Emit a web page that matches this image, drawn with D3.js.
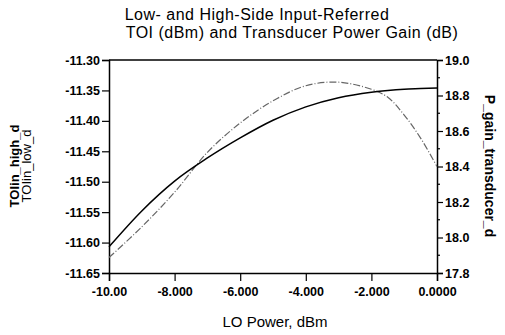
<!DOCTYPE html>
<html>
<head>
<meta charset="utf-8">
<script src="https://cdn.jsdelivr.net/npm/d3@7"></script>
<style>
  body { margin: 0; background: #fff; }
  svg { font-family: "Liberation Sans", Arial, sans-serif; }
</style>
</head>
<body>
<svg id="chart"></svg>
<script>
// LO power sweep (dBm)
var loPower = [-10, -9, -8, -7, -6, -5, -4, -3, -2, -1.5, -1, -0.5, 0];
// input-referred TOI, left axis (dBm)
var toiIn = [-11.607, -11.548, -11.499, -11.461, -11.428, -11.399, -11.377, -11.362, -11.353, -11.350, -11.348, -11.347, -11.346];
// transducer power gain, right axis (dB)
var gainTransducer = [17.887, 18.06, 18.255, 18.48, 18.645, 18.77, 18.855, 18.875, 18.835, 18.79, 18.69, 18.56, 18.40];

var xTicks = [-10, -8, -6, -4, -2, 0];
var xTickLabels = ["-10.00", "-8.000", "-6.000", "-4.000", "-2.000", "0.0000"];
var leftTicks = [-11.30, -11.35, -11.40, -11.45, -11.50, -11.55, -11.60, -11.65];
var rightTicks = [19.0, 18.8, 18.6, 18.4, 18.2, 18.0, 17.8];

var width = 505, height = 335;
var margin = { top: 60, right: 68, bottom: 62, left: 109 };

var svg = d3.select("#chart")
    .attr("width", width)
    .attr("height", height);

var x = d3.scaleLinear()
    .domain([-10, 0])
    .range([margin.left, width - margin.right]);

var yL = d3.scaleLinear()
    .domain([-11.65, -11.30])
    .range([height - margin.bottom, margin.top]);

var yR = d3.scaleLinear()
    .domain([17.8, 19.0])
    .range([height - margin.bottom, margin.top]);

// frame top line
svg.append("line")
    .attr("x1", x(-10)).attr("x2", x(0))
    .attr("y1", yL(-11.30)).attr("y2", yL(-11.30))
    .attr("stroke", "#000").attr("stroke-width", 1.5);

var xAxis = g => g
    .attr("transform", `translate(0,${height - margin.bottom})`)
    .call(d3.axisBottom(x).tickValues(xTicks).tickFormat((d, i) => xTickLabels[i]).tickSizeOuter(0).tickSize(8).tickPadding(6));

var yAxisL = g => g
    .attr("transform", `translate(${margin.left},0)`)
    .call(d3.axisLeft(yL).tickValues(leftTicks).tickFormat(d => d.toFixed(2)).tickSizeOuter(0).tickSize(7).tickPadding(2));

var yAxisR = g => g
    .attr("transform", `translate(${width - margin.right},0)`)
    .call(d3.axisRight(yR).tickValues(rightTicks).tickFormat(d => d.toFixed(1)).tickSizeOuter(0).tickSize(6).tickPadding(2));

// minor ticks on the gain axis
var minorR = d3.range(17.9, 19.0, 0.2);
svg.append("g")
    .attr("transform", `translate(${width - margin.right},0)`)
    .selectAll("line")
    .data(minorR)
    .join("line")
    .attr("x1", 0).attr("x2", 3)
    .attr("y1", d => yR(d)).attr("y2", d => yR(d))
    .attr("stroke", "#000").attr("stroke-width", 1.2);

[svg.append("g").call(xAxis), svg.append("g").call(yAxisL), svg.append("g").call(yAxisR)].forEach(g => {
    g.selectAll(".domain").attr("stroke-width", 1.5);
    g.selectAll(".tick line").attr("stroke-width", 1.2);
    g.selectAll("text")
        .attr("font-size", 12.5)
        .attr("font-weight", "bold")
        .attr("fill", "#000");
});

// curves
var lineL = d3.line()
    .x((d, i) => x(loPower[i]))
    .y(d => yL(d))
    .curve(d3.curveMonotoneX);

var lineR = d3.line()
    .x((d, i) => x(loPower[i]))
    .y(d => yR(d))
    .curve(d3.curveCatmullRom);

svg.append("path")
    .datum(gainTransducer)
    .attr("fill", "none")
    .attr("stroke", "#666")
    .attr("stroke-width", 1.2)
    .attr("stroke-dasharray", "7,2,1,2")
    .attr("d", lineR);

svg.append("path")
    .datum(toiIn)
    .attr("fill", "none")
    .attr("stroke", "#000")
    .attr("stroke-width", 1.5)
    .attr("d", lineL);

// titles and labels
svg.append("text")
    .attr("x", 257).attr("y", 20)
    .attr("text-anchor", "middle")
    .attr("font-size", 16)
    .attr("letter-spacing", 0.5)
    .text("Low- and High-Side Input-Referred");

svg.append("text")
    .attr("x", 292).attr("y", 38)
    .attr("text-anchor", "middle")
    .attr("font-size", 16)
    .attr("letter-spacing", 0.5)
    .text("TOI (dBm) and Transducer Power Gain (dB)");

svg.append("text")
    .attr("x", 275).attr("y", 327)
    .attr("text-anchor", "middle")
    .attr("font-size", 15)
    .text("LO Power, dBm");

svg.append("text")
    .attr("transform", "translate(19,166) rotate(-90)")
    .attr("text-anchor", "middle")
    .attr("font-size", 13)
    .attr("font-weight", "bold")
    .text("TOIin_high_d");

svg.append("text")
    .attr("transform", "translate(31,166) rotate(-90)")
    .attr("text-anchor", "middle")
    .attr("font-size", 13)
    .text("TOIin_low_d");

svg.append("text")
    .attr("transform", "translate(485,166) rotate(90)")
    .attr("text-anchor", "middle")
    .attr("font-size", 14)
    .attr("font-weight", "bold")
    .text("P_gain_transducer_d");
</script>
</body>
</html>
